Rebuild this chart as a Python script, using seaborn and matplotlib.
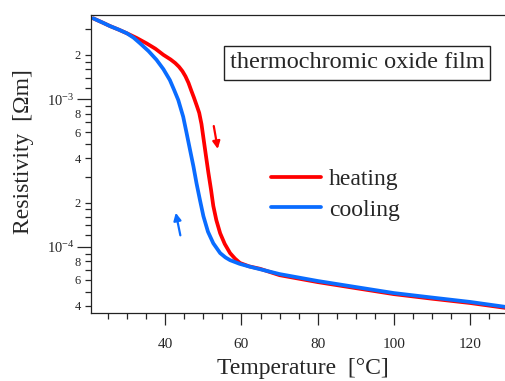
import numpy as np
import pandas as pd
import seaborn as sns
import matplotlib
matplotlib.use("Agg")
import matplotlib.pyplot as plt
from matplotlib.ticker import LogLocator, FuncFormatter, MultipleLocator, NullFormatter

# data (temperature in C, resistivity in Ohm m)
heat_T = [21.1, 23.5, 25.5, 27.8, 29.9, 32.5, 35.1, 37.4, 39.5, 41.4, 42.6, 43.6, 44.5,
          45.3, 46.1, 46.8, 47.5, 48.3, 48.9, 49.5, 50.0, 50.7, 51.3, 52.0, 52.6, 53.4,
          54.4, 55.6, 57.0, 58.3, 59.6, 62.0, 64.9, 70, 80, 90, 100, 110, 120, 129.4]
heat_R = [3.53e-3, 3.31e-3, 3.13e-3, 2.96e-3, 2.80e-3, 2.60e-3, 2.39e-3, 2.20e-3, 2.00e-3,
          1.86e-3, 1.76e-3, 1.66e-3, 1.55e-3, 1.43e-3, 1.29e-3, 1.15e-3, 1.03e-3, 9.0e-4,
          8.1e-4, 6.8e-4, 5.5e-4, 4.1e-4, 3.2e-4, 2.45e-4, 1.90e-4, 1.52e-4,
          1.24e-4, 1.05e-4, 9.1e-5, 8.35e-5, 7.8e-5, 7.4e-5, 7.12e-5,
          6.45e-5, 5.79e-5, 5.27e-5, 4.80e-5, 4.47e-5, 4.18e-5, 3.87e-5]

cool_T = [21.1, 23.5, 25.5, 27.8, 29.9, 31.7, 33.4, 35.6, 37.7, 39.5, 41.2, 42.3, 43.4,
          44.7, 45.6, 46.5, 47.4, 48.2, 49.1, 50.0, 51.2, 52.6, 54.4, 55.8, 57.0,
          59.5, 62.2, 70, 80, 90, 100, 110, 120, 129.4]
cool_R = [3.53e-3, 3.31e-3, 3.13e-3, 2.96e-3, 2.80e-3, 2.61e-3, 2.39e-3, 2.12e-3, 1.85e-3,
          1.60e-3, 1.35e-3, 1.16e-3, 9.9e-4, 7.62e-4, 5.9e-4, 4.54e-4, 3.5e-4,
          2.70e-4, 2.08e-4, 1.62e-4, 1.27e-4, 1.06e-4, 9.1e-5, 8.5e-5, 8.15e-5,
          7.7e-5, 7.36e-5, 6.56e-5, 5.89e-5, 5.36e-5, 4.88e-5, 4.55e-5, 4.25e-5, 3.93e-5]

runs = ["heating", "cooling"]
colors = {"heating": "#ff0000", "cooling": "#0a6cff"}

df = pd.concat([
    pd.DataFrame({"T": heat_T, "R": heat_R, "run": "heating"}),
    pd.DataFrame({"T": cool_T, "R": cool_R, "run": "cooling"}),
])

sns.set_style("white")
plt.rcParams["font.family"] = ["Liberation Serif", "DejaVu Serif"]
plt.rcParams["mathtext.fontset"] = "custom"
plt.rcParams["mathtext.rm"] = "Liberation Serif"

fig = plt.figure(figsize=(5.06, 3.81), dpi=100)
ax = fig.add_axes([0.1792, 0.1777, 0.8208, 0.7829])

for run in runs:
    sns.lineplot(data=df[df["run"] == run], x="T", y="R", sort=False, estimator=None,
                 color=colors[run], lw=2.7, label=run, ax=ax)

ax.set_yscale("log")
ax.set_xlim(20.42, 129.42)
ax.set_ylim(3.56e-5, 3.72e-3)

# ticks
ax.xaxis.set_major_locator(MultipleLocator(20))
ax.xaxis.set_minor_locator(MultipleLocator(5))
ax.yaxis.set_major_locator(LogLocator(base=10, numticks=10))
ax.yaxis.set_minor_locator(LogLocator(base=10, subs=[1.2, 1.4, 1.6, 1.8, 2, 3, 4, 5, 6, 7, 8, 9], numticks=20))


def major_fmt(v, pos):
    return r"$\mathregular{10^{%d}}$" % int(round(np.log10(v)))


def minor_fmt(v, pos):
    m = v / 10 ** np.floor(np.log10(v) + 1e-9)
    m = round(m, 1)
    if m in (2.0, 4.0, 6.0, 8.0):
        return "%d" % m
    return ""


ax.yaxis.set_major_formatter(FuncFormatter(major_fmt))
ax.yaxis.set_minor_formatter(FuncFormatter(minor_fmt))
ax.xaxis.set_minor_formatter(NullFormatter())

ax.tick_params(axis="x", which="major", direction="out", length=8.5, width=0.9,
               labelsize=11, pad=9, bottom=True)
ax.tick_params(axis="x", which="minor", direction="out", length=4.6, width=0.9, bottom=True)
ax.tick_params(axis="y", which="major", direction="out", length=10, width=0.9,
               labelsize=10.5, pad=1.5, left=True)
ax.tick_params(axis="y", which="minor", direction="out", length=4, width=0.9,
               labelsize=9, pad=3, left=True)

for s in ["left", "bottom", "top"]:
    ax.spines[s].set_linewidth(0.9)
    ax.spines[s].set_color("#222222")
ax.spines["right"].set_visible(False)

ax.set_xlabel("Temperature  [°C]", fontsize=17)
ax.set_ylabel("Resistivity  [Ωm]", fontsize=17)
ax.xaxis.set_label_coords(0.5098, -0.1834)
ax.xaxis.label.set_va("center")
ax.yaxis.set_label_coords(-0.1606, 0.5407)
ax.yaxis.label.set_va("center")
ax.yaxis.label.set_ha("center")

# direction arrows
ax.annotate("", xy=(53.9, 4.42e-4), xytext=(52.6, 6.88e-4),
            arrowprops=dict(arrowstyle="-|>", color=colors["heating"], lw=1.6, mutation_scale=11))
ax.annotate("", xy=(42.6, 1.78e-4), xytext=(44.1, 1.15e-4),
            arrowprops=dict(arrowstyle="-|>", color=colors["cooling"], lw=1.6, mutation_scale=11))

fig.text(357 / 506, 1 - 63 / 381, "thermochromic oxide film", fontsize=17.5,
         ha="center", va="center",
         bbox=dict(boxstyle="square,pad=0.25", fc="white", ec="#222222", lw=1))

ax.legend(loc="center left", bbox_to_anchor=(271 / 506, 1 - 194.5 / 381),
          bbox_transform=fig.transFigure, frameon=False, fontsize=17,
          handlelength=2.1, handletextpad=0.35, labelspacing=0.38,
          borderpad=0, borderaxespad=0)

fig.savefig("out.png", dpi=100)
